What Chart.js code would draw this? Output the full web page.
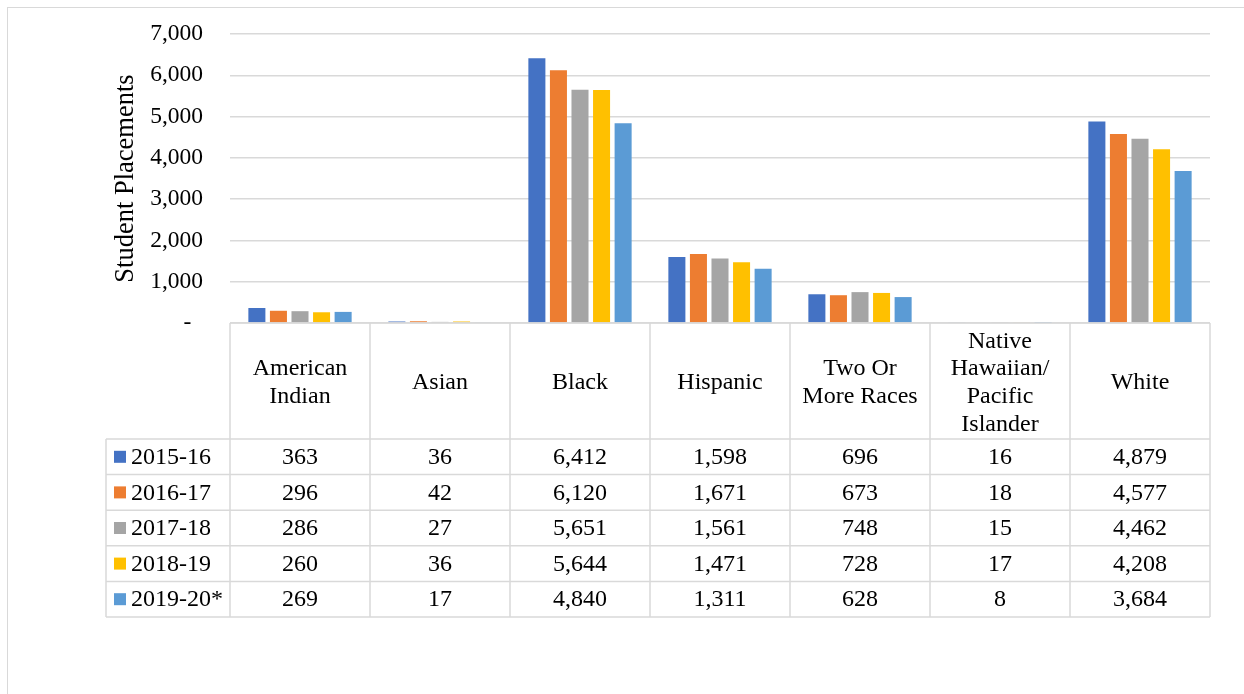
<!DOCTYPE html>
<html>
<head>
<meta charset="utf-8">
<script src="https://cdn.jsdelivr.net/npm/chart.js@4/dist/chart.umd.min.js"></script>
<style>
  html,body{margin:0;padding:0;background:#fff;}
  #wrap{position:relative;width:1244px;height:694px;}
</style>
</head>
<body>
<div id="wrap"><canvas id="c" width="1244" height="694"></canvas></div>
<script>
const categories = [['American','Indian'], ['Asian'], ['Black'], ['Hispanic'], ['Two Or','More Races'], ['Native','Hawaiian/','Pacific','Islander'], ['White']];
const seriesNames = ['2015-16', '2016-17', '2017-18', '2018-19', '2019-20*'];
const v2015 = [363, 36, 6412, 1598, 696, 16, 4879];
const v2016 = [296, 42, 6120, 1671, 673, 18, 4577];
const v2017 = [286, 27, 5651, 1561, 748, 15, 4462];
const v2018 = [260, 36, 5644, 1471, 728, 17, 4208];
const v2019 = [269, 17, 4840, 1311, 628, 8, 3684];
const seriesValues = [v2015, v2016, v2017, v2018, v2019];
const colors = ['#4472C4', '#ED7D31', '#A5A5A5', '#FFC000', '#5B9BD5'];
const yMax = 7000, yStep = 1000;

const FONT = '"Liberation Serif", "Times New Roman", serif';
const fmt = v => v.toLocaleString('en-US');

const tablePlugin = {
  id: 'dataTable',
  afterDraw(chart) {
    const ctx = chart.ctx;
    const xs = chart.scales.x;
    const area = chart.chartArea;
    const n = chart.data.labels.length;
    const colW = (xs.right - xs.left) / n;
    const top = area.bottom;
    const headH = 116;
    const rowH = 35.6;
    const legL = 106;
    const nRows = chart.data.datasets.length;
    const bottom = top + headH + rowH * nRows;
    ctx.save();
    ctx.strokeStyle = '#d9d9d9';
    ctx.lineWidth = 1.5;
    ctx.beginPath();
    ctx.moveTo(xs.left, top); ctx.lineTo(xs.right, top);
    for (let r = 0; r <= nRows; r++) {
      const y = top + headH + r * rowH;
      ctx.moveTo(legL, y); ctx.lineTo(xs.right, y);
    }
    ctx.moveTo(legL, top + headH); ctx.lineTo(legL, bottom);
    for (let i = 0; i <= n; i++) {
      const x = xs.left + i * colW;
      ctx.moveTo(x, top); ctx.lineTo(x, bottom);
    }
    ctx.stroke();

    ctx.fillStyle = '#000';
    ctx.font = '24px ' + FONT;
    ctx.textAlign = 'center';
    ctx.textBaseline = 'middle';
    const lh = 27.7;
    chart.data.labels.forEach((lab, i) => {
      const cx = xs.getPixelForValue(i);
      const lines = Array.isArray(lab) ? lab : [lab];
      const cy = top + headH / 2 + 2;
      lines.forEach((ln, k) => {
        ctx.fillText(ln, cx, cy + (k - (lines.length - 1) / 2) * lh);
      });
    });
    chart.data.datasets.forEach((ds, r) => {
      const cy = top + headH + r * rowH + rowH / 2 + 1;
      ds.data.forEach((v, i) => {
        ctx.fillText(fmt(v), xs.getPixelForValue(i), cy);
      });
      ctx.fillStyle = ds.backgroundColor;
      ctx.fillRect(legL + 8, cy - 7, 12, 12);
      ctx.fillStyle = '#000';
      ctx.textAlign = 'left';
      ctx.fillText(ds.label, legL + 25, cy);
      ctx.textAlign = 'center';
    });
    ctx.strokeStyle = '#d9d9d9';
    ctx.lineWidth = 1;
    ctx.strokeRect(7.5, 7.5, chart.width + 20, chart.height + 20);
    ctx.restore();
  }
};

new Chart(document.getElementById('c'), {
  type: 'bar',
  data: {
    labels: categories,
    datasets: seriesNames.map((name, i) => ({
      label: name,
      data: seriesValues[i],
      backgroundColor: colors[i],
      borderWidth: 0,
      categoryPercentage: 0.77,
      barPercentage: 0.79
    }))
  },
  options: {
    responsive: false,
    animation: false,
    devicePixelRatio: 1,
    layout: { padding: { left: 110, right: 34, top: 34, bottom: 371 } },
    plugins: { legend: { display: false }, tooltip: { enabled: false } },
    scales: {
      x: { display: false, offset: true },
      y: {
        min: 0, max: yMax,
        afterFit(scale) { scale.width = 120; },
        ticks: {
          stepSize: yStep,
          padding: 0,
          color: '#000',
          font: { family: FONT, size: 23.5 },
          callback: v => v === 0 ? '-  ' : fmt(v)
        },
        grid: { color: '#d9d9d9', lineWidth: 1.5, drawTicks: true, tickLength: 27, tickColor: 'rgba(0,0,0,0)' },
        border: { display: false },
        title: {
          display: true,
          text: 'Student Placements',
          color: '#000',
          font: { family: FONT, size: 26.5 },
          padding: { top: 0, bottom: 0 }
        }
      }
    }
  },
  plugins: [tablePlugin]
});
</script>
</body>
</html>
